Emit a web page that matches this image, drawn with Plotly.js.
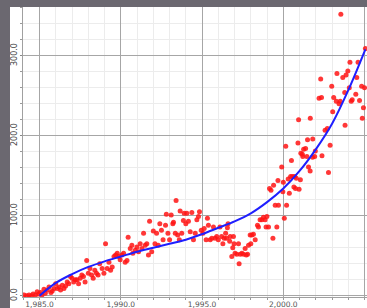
<!DOCTYPE html>
<html>
<head>
<meta charset="utf-8">
<script src="https://cdn.plot.ly/plotly-3.0.1.min.js"></script>
<style>
html,body{margin:0;padding:0;background:#6b6870;width:367px;height:308px;overflow:hidden;}
#chart{position:absolute;left:10px;top:7px;width:357px;height:301px;}
</style>
</head>
<body>
<div id="chart"></div>
<script>
// Observed points (year, value)
const pointYears = [1984.05,1984.2,1984.35,1984.5,1984.6,1984.75,1984.85,1984.95,1985.06,1985.15,1985.27,1985.35,1985.47,1985.58,1985.7,1985.78,1985.89,1985.99,1986.09,1986.2,1986.29,1986.4,1986.5,1986.6,1986.7,1986.8,1986.9,1987.0,1987.1,1987.2,1987.3,1987.4,1987.5,1987.6,1987.7,1987.8,1987.9,1988.0,1988.1,1988.2,1988.3,1988.4,1988.5,1988.6,1988.7,1988.85,1988.96,1989.06,1989.16,1989.27,1989.37,1989.47,1989.58,1989.68,1989.78,1989.88,1989.96,1990.07,1990.17,1990.27,1990.38,1990.45,1990.58,1990.68,1990.74,1990.89,1990.99,1991.09,1991.19,1991.3,1991.4,1991.5,1991.6,1991.7,1991.77,1991.9,1992.0,1992.1,1992.2,1992.3,1992.4,1992.5,1992.6,1992.75,1992.8,1992.9,1993.0,1993.1,1993.2,1993.24,1993.35,1993.4,1993.5,1993.6,1993.65,1993.75,1993.85,1993.9,1994.0,1994.06,1994.16,1994.27,1994.37,1994.47,1994.58,1994.68,1994.78,1994.84,1994.95,1995.05,1995.13,1995.25,1995.33,1995.39,1995.5,1995.6,1995.7,1995.8,1995.9,1996.0,1996.1,1996.2,1996.28,1996.36,1996.45,1996.5,1996.56,1996.6,1996.7,1996.73,1996.83,1996.89,1996.93,1996.97,1997.03,1997.14,1997.24,1997.28,1997.35,1997.45,1997.55,1997.65,1997.72,1997.8,1997.86,1997.96,1998.0,1998.06,1998.16,1998.27,1998.41,1998.47,1998.57,1998.68,1998.78,1998.88,1998.94,1998.99,1999.09,1999.15,1999.24,1999.36,1999.4,1999.5,1999.6,1999.67,1999.7,1999.9,1999.97,2000.0,2000.06,2000.15,2000.2,2000.3,2000.37,2000.45,2000.5,2000.57,2000.65,2000.7,2000.75,2000.8,2000.9,2000.94,2000.97,2001.05,2001.08,2001.17,2001.2,2001.25,2001.37,2001.45,2001.49,2001.55,2001.65,2001.66,2001.8,2001.81,2001.93,2001.97,2002.2,2002.3,2002.35,2002.38,2002.57,2002.71,2002.78,2002.88,2002.98,2003.04,2003.1,2003.26,2003.3,2003.43,2003.5,2003.54,2003.66,2003.78,2003.8,2003.86,2003.97,2004.06,2004.1,2004.18,2004.24,2004.46,2004.52,2004.6,2004.69,2004.82,2004.86,2004.93,2005.0,2005.05];
const pointValues = [1,0,1,0,2,1,5,2,4,1,8,3,7,11,4,6,9,15,9,11,7,13,9,12,17,15,24,22,17,20,20,15,22,26,24,17,44,28,34,26,22,32,28,26,40,34,28,65,34,42,32,36,49,51,53,49,45,51,53,42,44,73,59,63,53,57,61,55,65,59,78,63,65,51,93,55,81,65,78,63,90,82,70,88,102,78,70,101,90,92,78,119,76,70,106,78,94,103,90,103,93,80,104,70,78,95,99,105,82,78,84,70,97,88,70,72,86,72,74,70,86,74,65,72,78,72,85,90,68,74,49,60,74,65,53,52,65,40,52,53,52,59,51,52,63,76,65,76,77,70,88,86,95,95,98,95,86,99,86,134,132,72,138,113,86,144,113,161,130,142,97,187,113,146,128,149,169,149,136,149,134,147,191,220,133,145,178,177,174,183,184,174,195,161,156,222,173,196,174,181,247,271,248,175,207,209,154,188,262,230,248,243,278,240,243,352,273,254,213,276,281,260,292,243,245,252,273,292,244,262,222,235,260,309];

// Fitted trend curve
const fitYears = [1985,1986,1987,1988,1989,1990,1991,1992,1993,1994,1995,1996,1997,1998,1999,2000,2001,2002,2003,2004,2005.05];
const fitValues = [0,16,27,36,43,49,55,60,65,70,77,85,93,103,117,134,156,183,215,257,308];

const xTickVals = [1985,1990,1995,2000,2005];
const yTickVals = [0,100,200,300];

const traces = [
  {x: pointYears, y: pointValues, type:'scatter', mode:'markers',
   marker:{color:'rgba(255,20,20,0.85)', size:5}, hoverinfo:'none'},
  {x: fitYears, y: fitValues, type:'scatter', mode:'lines',
   line:{color:'#1f1fff', width:2, shape:'spline'}, hoverinfo:'none'}
];

const layout = {
  width:357, height:301,
  margin:{l:13, r:0, t:0, b:11, pad:0},
  paper_bgcolor:'#ffffff', plot_bgcolor:'#ffffff',
  showlegend:false,
  font:{family:'DejaVu Sans, Arial, sans-serif', size:8, color:'#444'},
  xaxis:{range:[1983.98,2005.15], tickvals:xTickVals, tickformat:',.1f',
    showgrid:true, gridcolor:'#a6a6a6', gridwidth:1, zeroline:false,
    showline:true, linecolor:'#a0a0a0', ticks:'', ticklabelstandoff:0,
    minor:{dtick:1, showgrid:true, gridcolor:'#ececec', ticks:'outside', ticklen:2, tickcolor:'#999'},
    tickfont:{size:7.5, color:'#555'}, fixedrange:true},
  yaxis:{range:[-1.6,361], tickvals:yTickVals, tickformat:'.1f', tickangle:-90,
    showgrid:true, gridcolor:'#a6a6a6', gridwidth:1, zeroline:false,
    showline:true, linecolor:'#a0a0a0', ticks:'outside', ticklen:2, tickcolor:'#888',
    minor:{dtick:20, showgrid:true, gridcolor:'#ececec', ticks:'outside', ticklen:2, tickcolor:'#999'},
    tickfont:{size:8, color:'#444'}, fixedrange:true}
};

Plotly.newPlot('chart', traces, layout, {displayModeBar:false, staticPlot:true});
</script>
</body>
</html>
